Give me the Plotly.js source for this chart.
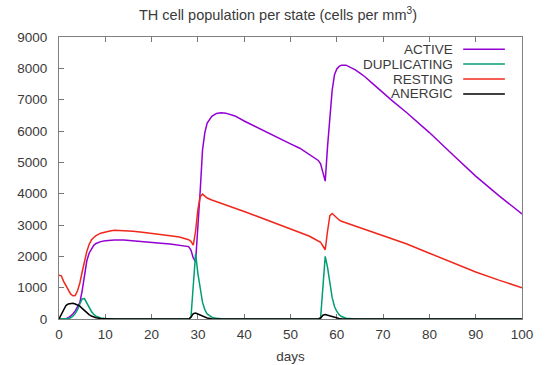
<!DOCTYPE html>
<html>
<head>
<meta charset="utf-8">
<script src="https://cdn.plot.ly/plotly-3.0.1.min.js"></script>
<style>
  html, body { margin: 0; padding: 0; background: #fff; }
  #chart { width: 545px; height: 365px; }
</style>
</head>
<body>
<div id="chart"></div>
<script>
// ---- data ----
const days = [0, 0.5, 1, 1.5, 2, 2.5, 3, 3.5, 4, 4.5, 5, 5.5, 6, 6.5, 7, 7.5, 8, 9, 10, 11, 12,
  14, 16, 18, 20, 22, 24, 26, 27, 28, 28.5, 29, 29.5, 30, 30.5, 31, 31.5, 32, 33, 34, 35, 36,
  38, 40, 42, 44, 46, 48, 50, 52, 54, 55, 56, 56.5, 57, 57.5, 58, 58.5, 59, 59.5, 60, 60.5, 61,
  62, 63, 64, 65, 66, 68, 70, 72, 75, 80, 85, 90, 95, 100];

const active = [0, 0, 0, 10, 40, 90, 160, 260, 380, 520, 900, 1450, 1850, 2100, 2250, 2350, 2410, 2470, 2500, 2520, 2525,
  2520, 2500, 2480, 2450, 2420, 2390, 2360, 2340, 2310, 2200, 1950, 1830, 2900, 4100, 5400, 5950, 6250, 6470, 6560, 6585, 6570,
  6480, 6320, 6170, 6020, 5870, 5730, 5590, 5450, 5250, 5150, 5060, 4950, 4650, 4400, 5500, 6450, 7300, 7800, 7980, 8060, 8100,
  8100, 8030, 7950, 7850, 7740, 7480, 7210, 6960, 6600, 5950, 5250, 4560, 3940, 3350];

const duplicating = [0, 0, 0, 5, 15, 40, 90, 170, 300, 480, 640, 650, 520, 360, 240, 150, 90, 30, 10, 0, 0,
  0, 0, 0, 0, 0, 0, 0, 0, 0, 50, 1200, 2080, 1450, 930, 530, 300, 160, 60, 20, 5, 0,
  0, 0, 0, 0, 0, 0, 0, 0, 0, 0, 0, 30, 900, 2000, 1650, 1140, 680, 400, 240, 140, 80,
  25, 5, 0, 0, 0, 0, 0, 0, 0, 0, 0, 0, 0, 0];

const resting = [1400, 1380, 1200, 1050, 920, 800, 740, 750, 900, 1150, 1500, 1850, 2150, 2380, 2520, 2600, 2660, 2740, 2780, 2810, 2830,
  2820, 2800, 2770, 2740, 2700, 2660, 2620, 2580, 2530, 2480, 2360, 2800, 3500, 3900, 3990, 3920, 3860, 3800, 3750, 3700, 3650,
  3540, 3430, 3320, 3210, 3100, 2990, 2880, 2770, 2650, 2570, 2490, 2450, 2330, 2210, 2800, 3300, 3370, 3300, 3220, 3160, 3120,
  3070, 3020, 2970, 2920, 2870, 2770, 2670, 2570, 2400, 2100, 1800, 1500, 1240, 1000];

const anergic = [0, 150, 330, 430, 480, 500, 500, 480, 450, 410, 340, 270, 200, 140, 95, 60, 40, 15, 5, 0, 0,
  0, 0, 0, 0, 0, 0, 0, 0, 0, 60, 170, 190, 160, 120, 80, 50, 30, 10, 0, 0, 0,
  0, 0, 0, 0, 0, 0, 0, 0, 0, 0, 0, 30, 120, 140, 120, 90, 60, 40, 25, 15, 8,
  0, 0, 0, 0, 0, 0, 0, 0, 0, 0, 0, 0, 0, 0];

const seriesNames = ['ACTIVE', 'DUPLICATING', 'RESTING', 'ANERGIC'];
const seriesColors = ['#9400d3', '#009e73', '#f0281c', '#000000'];
const seriesValues = [active, duplicating, resting, anergic];

const titleText = 'TH cell population per state (cells per mm<sup>3</sup>)';
const xTitle = 'days';

// ---- traces ----
const traces = seriesValues.map((vals, i) => ({
  type: 'scatter', mode: 'lines', x: days, y: vals, name: seriesNames[i],
  line: { color: seriesColors[i], width: 1.5 }, showlegend: false, hoverinfo: 'skip'
}));

const fam = 'Liberation Sans, Arial, sans-serif';
const textCol = '#3a3a3a';

// ---- gnuplot-like key (text right, sample line to its right) ----
const keyTextX = 0.855, keyLineX0 = 0.873, keyLineX1 = 0.963;
const keyY = [0.957, 0.904, 0.851, 0.798];
const annotations = seriesNames.map((n, i) => ({
  xref: 'paper', yref: 'paper', x: keyTextX, y: keyY[i], xanchor: 'right', yanchor: 'middle',
  text: n, showarrow: false, font: { family: fam, size: 13.5, color: textCol }
}));
const shapes = seriesNames.map((n, i) => ({
  type: 'line', xref: 'paper', yref: 'paper', x0: keyLineX0, x1: keyLineX1, y0: keyY[i], y1: keyY[i],
  line: { color: seriesColors[i], width: 1.5 }
}));

const axisFont = { family: fam, size: 13.5, color: textCol };

const layout = {
  width: 545, height: 365,
  margin: { l: 59, r: 23, t: 37, b: 46 },
  paper_bgcolor: '#fff', plot_bgcolor: '#fff',
  title: { text: titleText, x: 278 / 545, xanchor: 'center', y: 1 - 15 / 365, yanchor: 'middle',
           font: { family: fam, size: 14.5, color: textCol } },
  xaxis: {
    range: [0, 100], dtick: 10, tick0: 0, ticks: 'inside', ticklen: 5, tickcolor: '#777', tickwidth: 1,
    showline: true, linecolor: '#808080', linewidth: 1, mirror: 'ticks', showgrid: false, zeroline: false,
    tickfont: axisFont, layer: 'below traces', ticklabelstandoff: 3,
    title: { text: xTitle, font: axisFont, standoff: 10 }
  },
  yaxis: {
    range: [0, 9000], dtick: 1000, tick0: 0, ticks: 'inside', ticklen: 5, tickcolor: '#777', tickwidth: 1,
    showline: true, linecolor: '#808080', linewidth: 1, mirror: true, showgrid: false, zeroline: false,
    tickfont: axisFont, layer: 'below traces', ticklabelstandoff: 8
  },
  showlegend: false,
  annotations: annotations,
  shapes: shapes
};

Plotly.newPlot('chart', traces, layout, { staticPlot: true, displayModeBar: false });
</script>
</body>
</html>
